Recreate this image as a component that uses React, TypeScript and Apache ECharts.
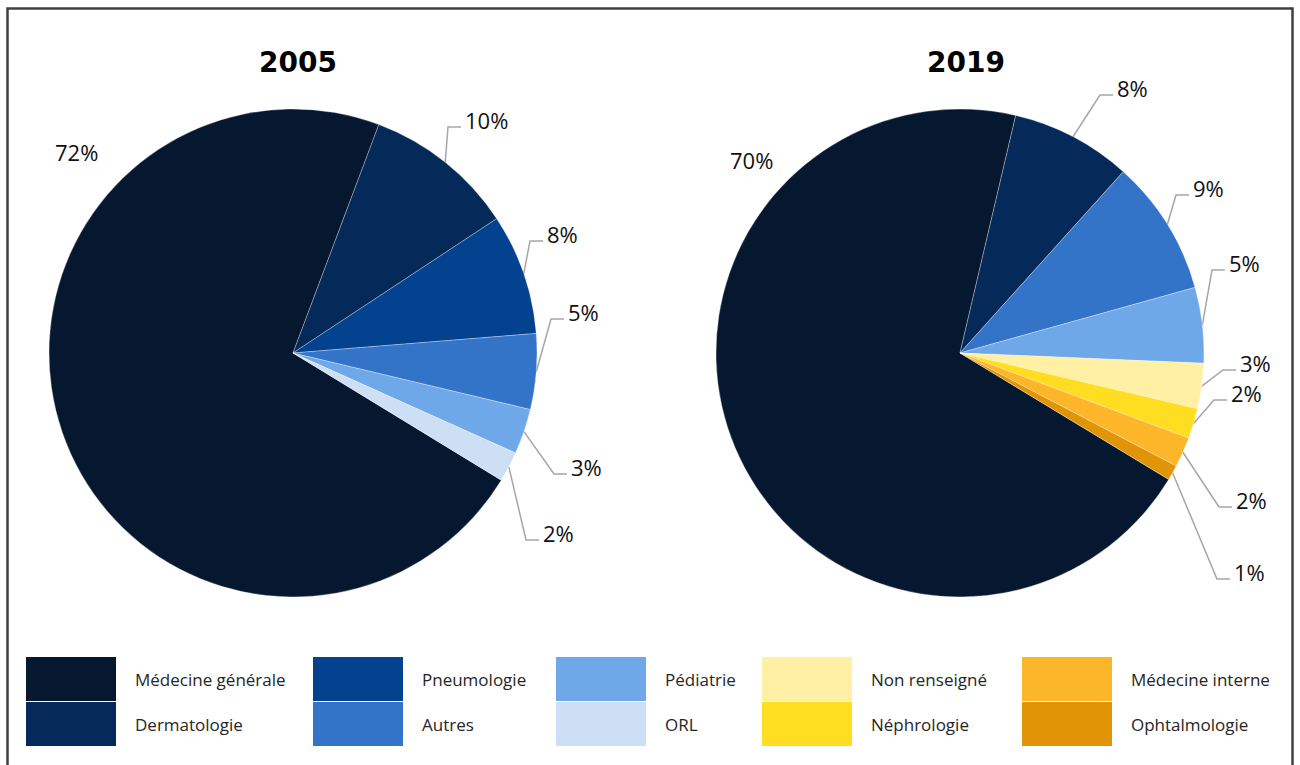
import React, { useEffect, useRef } from "react";
import * as echarts from "echarts";

// ---- Data ----
const categories = [
  "Médecine générale",
  "Dermatologie",
  "Pneumologie",
  "Autres",
  "Pédiatrie",
  "ORL",
  "Non renseigné",
  "Néphrologie",
  "Médecine interne",
  "Ophtalmologie",
];
const colors = [
  "#05182f",
  "#052a5a",
  "#03428f",
  "#3374c8",
  "#6fa8e8",
  "#cddff4",
  "#fff0a3",
  "#ffde21",
  "#fdb52a",
  "#e09406",
];

const cats2005 = ["Médecine générale", "Dermatologie", "Pneumologie", "Autres", "Pédiatrie", "ORL"];
const vals2005 = [72, 10, 8, 5, 3, 2];

const cats2019 = [
  "Médecine générale",
  "Dermatologie",
  "Autres",
  "Pédiatrie",
  "Non renseigné",
  "Néphrologie",
  "Médecine interne",
  "Ophtalmologie",
];
const vals2019 = [70, 8, 9, 5, 3, 2, 2, 1];

const titles = ["2005", "2019"];

// ---- Layout (label anchor: left x, middle y) ----
const labelPos2005 = [
  [55, 152],
  [465, 120],
  [547, 234],
  [568, 312],
  [571, 467],
  [543, 533],
];
const labelPos2019 = [
  [730, 160],
  [1117, 88],
  [1193, 188],
  [1229, 263],
  [1240, 363],
  [1231, 393],
  [1236, 500],
  [1234, 572],
];

const colorOf = (name: string) => colors[categories.indexOf(name)];

function buildData(cats: string[], vals: number[]) {
  return cats.map((c, i) => ({
    name: c,
    value: vals[i],
    itemStyle: { color: colorOf(c) },
    labelLine: { show: i !== 0 },
  }));
}

const legendCols = [
  [0, 1],
  [2, 3],
  [4, 5],
  [6, 7],
  [8, 9],
];
const legendLeft = [26, 313, 556, 762, 1022];

export default function App() {
  const ref = useRef<HTMLDivElement>(null);
  useEffect(() => {
    if (!ref.current) return;
    const chart = echarts.init(ref.current, null, { renderer: "svg" });

    const makeLayout = (positions: number[][]) => (params: any) => {
      const pos = positions[params.dataIndex];
      const res: any = {
        x: pos[0],
        y: pos[1],
        align: "left",
        verticalAlign: "middle",
      };
      if (params.dataIndex > 0 && params.labelLinePoints) {
        res.labelLinePoints = [
          params.labelLinePoints[0],
          [pos[0] - 17, pos[1] + 7],
          [pos[0] - 4, pos[1] + 7],
        ];
      }
      return res;
    };

    const pieCommon = {
      type: "pie",
      radius: 244,
      clockwise: true,
      avoidLabelOverlap: false,
      itemStyle: { borderColor: "rgba(255,255,255,0.6)", borderWidth: 0.5 },
      label: {
        show: true,
        formatter: "{c}%",
        fontFamily: "Open Sans",
        fontSize: 22,
        color: "#111",
      },
      labelLine: {
        show: true,
        length: 10,
        length2: 10,
        lineStyle: { color: "#a6a6a6", width: 1.5 },
      },
      emphasis: { disabled: true },
    };

    const titleStyle = {
      fontFamily: "DejaVu Sans",
      fontWeight: 900,
      fontSize: 28,
      color: "#000",
    };

    chart.setOption({
      animation: false,
      title: [
        { text: titles[0], left: 293, top: 43, textAlign: "center", textStyle: titleStyle },
        { text: titles[1], left: 961, top: 43, textAlign: "center", textStyle: titleStyle },
      ],
      legend: legendCols.map((col, k) => ({
        orient: "vertical",
        left: legendLeft[k],
        top: 657,
        padding: 0,
        itemGap: 1,
        itemWidth: 90,
        itemHeight: 44,
        icon: "rect",
        selectedMode: false,
        itemStyle: { borderWidth: 0 },
        textStyle: {
          fontFamily: "Open Sans",
          fontSize: 17,
          color: "#262626",
          padding: [0, 0, 0, 14],
        },
        data: col.map((i) => categories[i]),
      })),
      graphic: [
        {
          type: "rect",
          shape: { x: 7.5, y: 8.5, width: 1285, height: 800 },
          style: { fill: "none", stroke: "#404040", lineWidth: 2.5 },
          silent: true,
        },
      ],
      series: [
        {
          ...pieCommon,
          name: titles[0],
          center: [293, 353],
          startAngle: -31.4,
          labelLayout: makeLayout(labelPos2005),
          data: buildData(cats2005, vals2005),
        },
        {
          ...pieCommon,
          name: titles[1],
          center: [960, 353],
          startAngle: -31.2,
          labelLayout: makeLayout(labelPos2019),
          data: buildData(cats2019, vals2019),
        },
      ],
    });
    return () => chart.dispose();
  }, []);
  return (
    <div
      ref={ref}
      style={{ position: "fixed", left: 0, top: 0, width: 1300, height: 765, background: "#fff" }}
    />
  );
}
